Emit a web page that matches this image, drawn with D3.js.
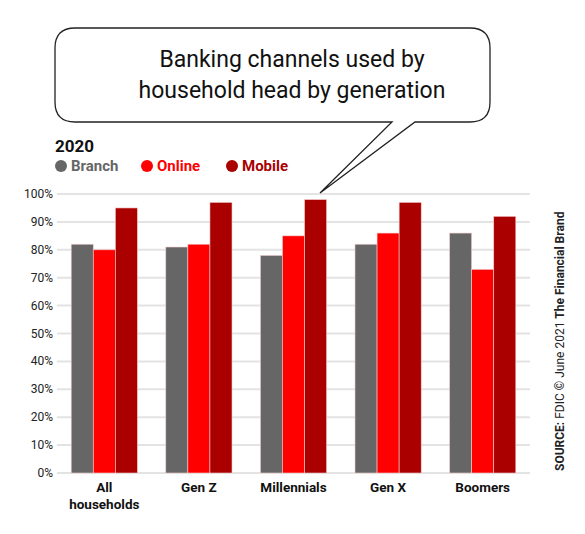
<!DOCTYPE html><html><head><script src="https://cdn.jsdelivr.net/npm/d3@7"></script>
<style>body{margin:0;background:#fff}</style></head><body><script>
const categories=["All households","Gen Z","Millennials","Gen X","Boomers"];
const categoryLines=[["All","households"],["Gen Z"],["Millennials"],["Gen X"],["Boomers"]];
const series=["Branch","Online","Mobile"];
const colors=["#666666","#ff0000","#aa0000"];
const branch=[82,81,78,82,86], online=[80,82,85,86,73], mobile=[95,97,98,97,92];
const ticks=[0,10,20,30,40,50,60,70,80,90,100];
const vals=[branch,online,mobile];
const svg=d3.select("body").append("svg").attr("width",585).attr("height",534).style("font-family","Roboto, sans-serif");
const y=d3.scaleLinear().domain([0,100]).range([473,194]);
const x=d3.scaleBand().domain(categories).range([57,530]).paddingInner(0.3).paddingOuter(0.15);
const xs=d3.scaleBand().domain(series).range([0,x.bandwidth()]);
svg.append("g").selectAll("line").data(ticks).join("line").attr("x1",57).attr("x2",530).attr("y1",d=>y(d)).attr("y2",d=>y(d)).attr("stroke","#e3e3e3").attr("stroke-width",2);
svg.append("g").selectAll("text").data(ticks).join("text").attr("x",53).attr("y",d=>y(d)+4).attr("text-anchor","end").attr("font-size",12).attr("fill","#222").text(d=>d+"%");
categories.forEach((c,i)=>series.forEach((s,j)=>{svg.append("rect").attr("x",x(c)+xs(s)).attr("width",xs.bandwidth()).attr("y",y(vals[j][i])).attr("height",y(0)-y(vals[j][i])).attr("fill",colors[j]).attr("stroke","#f3d0d0").attr("stroke-width",0.6);}));
categories.forEach((c,i)=>{const t=svg.append("text").attr("x",x(c)+x.bandwidth()/2).attr("y",492).attr("text-anchor","middle").attr("font-size",13.5).attr("font-weight","bold").attr("fill","#111");
 categoryLines[i].forEach((p,k)=>t.append("tspan").attr("x",x(c)+x.bandwidth()/2).attr("dy",k?17:0).text(p));});
svg.append("text").attr("x",55).attr("y",152).attr("font-size",17).attr("font-weight","bold").attr("fill","#111").text("2020");
const lx=[55,141,226];
series.forEach((s,j)=>{svg.append("circle").attr("cx",lx[j]+6).attr("cy",166).attr("r",6).attr("fill",colors[j]);
 svg.append("text").attr("x",lx[j]+16).attr("y",171).attr("font-size",15).attr("font-weight","bold").attr("fill",colors[j]).text(s);});
svg.append("path").attr("d","M75,28 H470 Q490,28 490,48 V102 Q490,122 470,122 H415 L320,193 L392,122 H75 Q55,122 55,102 V48 Q55,28 75,28 Z").attr("fill","#fff").attr("stroke","#222").attr("stroke-width",1.3);
svg.append("text").attr("x",292).attr("y",67).attr("text-anchor","middle").attr("font-size",23).attr("fill","#111").text("Banking channels used by");
svg.append("text").attr("x",292).attr("y",98).attr("text-anchor","middle").attr("font-size",23).attr("fill","#111").text("household head by generation");
const st=svg.append("text").attr("transform","translate(564,471) rotate(-90)").attr("font-size",12).attr("fill","#222");
st.append("tspan").attr("font-weight","bold").text("SOURCE: ");st.append("tspan").text("FDIC © June 2021 ");st.append("tspan").attr("font-weight","bold").text("The Financial Brand");
</script></body></html>
